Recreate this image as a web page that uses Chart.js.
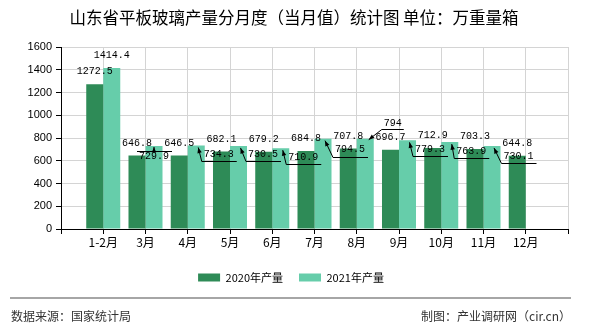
<!DOCTYPE html>
<html>
<head>
<meta charset="utf-8">
<script src="https://cdn.jsdelivr.net/npm/chart.js@4.4.0/dist/chart.umd.min.js"></script>
<style>
html, body { margin: 0; padding: 0; background: #fff; }
</style>
</head>
<body>
<canvas id="myChart" width="590" height="330"></canvas>
<script>
// data
const months = ['1-2月', '3月', '4月', '5月', '6月', '7月', '8月', '9月', '10月', '11月', '12月'];
const output2020 = [1272.5, 646.8, 646.5, 682.1, 679.2, 684.8, 707.8, 696.7, 712.9, 703.3, 644.8];
const output2021 = [1414.4, 729.9, 734.3, 730.5, 710.9, 794.5, 794, 779.3, 763.9, 730.1, null];
const yTicks = [0, 200, 400, 600, 800, 1000, 1200, 1400, 1600];

// where the 2021 labels sit (like the original, some are pushed aside with a leader line)
// [mode, dx, dy] relative to the bar top
const place2021 = [
    ['above', 0, -12.5],
    ['over', 0, 10],
    ['side', 22.5, 9],
    ['side', 24.5, 8.5],
    ['side', 22.5, 9],
    ['side', 27, 11],
    ['up', 27.5, -15],
    ['side', 22.5, 9],
    ['side', 21.5, 9],
    ['side', 26.5, 10],
    ['above', 0, -12.5]
];

// empty slot at each end, like the original axis
const xLabels = [''].concat(months, ['']);
const pad = arr => [null].concat(arr, [null]);

function arrow(c, x1, y1, x2, y2) {
    c.beginPath();
    c.moveTo(x1, y1);
    c.lineTo(x2, y2);
    c.stroke();
    const a = Math.atan2(y2 - y1, x2 - x1);
    c.beginPath();
    c.moveTo(x2, y2);
    c.lineTo(x2 - 6 * Math.cos(a - 0.38), y2 - 6 * Math.sin(a - 0.38));
    c.lineTo(x2 - 6 * Math.cos(a + 0.38), y2 - 6 * Math.sin(a + 0.38));
    c.closePath();
    c.fill();
}

const valueLabels = {
    id: 'valueLabels',
    afterDatasetsDraw(chart) {
        const c = chart.ctx;
        c.save();
        c.font = '10px "Liberation Mono"';
        c.fillStyle = '#000';
        c.strokeStyle = '#000';
        c.lineWidth = 1;
        c.textAlign = 'center';
        c.textBaseline = 'middle';
        chart.data.datasets.forEach((ds, di) => {
            chart.getDatasetMeta(di).data.forEach((bar, i) => {
                const v = ds.data[i];
                if (v == null) return;
                const txt = String(v);
                const p = di == 0 ? ['above', 0, -12.5] : place2021[i - 1];
                const tx = bar.x + p[1], ty = bar.y + p[2];
                const w = c.measureText(txt).width;
                c.fillText(txt, tx, ty);
                if (p[0] == 'side') {
                    const ly = Math.round(ty + 7) + 0.5;
                    c.beginPath();
                    c.moveTo(tx + w / 2 + 3, ly);
                    c.lineTo(tx - w / 2 - 2, ly);
                    c.stroke();
                    arrow(c, tx - w / 2 - 2, ly, bar.x + 2, bar.y + 2);
                } else if (p[0] == 'up') {
                    const ly = Math.round(ty + 5) + 0.5;
                    c.beginPath();
                    c.moveTo(tx + w / 2 + 2, ly);
                    c.lineTo(tx - w / 2 - 2, ly);
                    c.stroke();
                    arrow(c, tx - w / 2 - 2, ly, bar.x + 3.5, bar.y + 1);
                } else if (p[0] == 'over') {
                    const ly = Math.round(ty - 5) + 0.5;
                    c.beginPath();
                    c.moveTo(tx - w / 2 - 2, ly);
                    c.lineTo(tx + w / 2 + 3, ly);
                    c.stroke();
                    arrow(c, bar.x, ly, bar.x, bar.y + 1);
                }
            });
        });
        c.restore();
    }
};

const footer = {
    id: 'footer',
    afterLayout(chart) {
        // title and legend in the original sit a little right of the plot centre
        chart.legend.left += 7;
        chart.legend.right += 7;
        chart.titleBlock.left += 10;
        chart.titleBlock.right += 10;
    },
    afterDraw(chart) {
        const c = chart.ctx;
        c.save();
        c.strokeStyle = '#888';
        c.lineWidth = 1.5;
        c.beginPath();
        c.moveTo(10, 298);
        c.lineTo(571, 298);
        c.stroke();
        c.fillStyle = '#333';
        c.font = '12px "Noto Sans CJK SC"';
        c.textBaseline = 'middle';
        c.textAlign = 'left';
        c.fillText('数据来源：国家统计局', 11, 316);
        c.textAlign = 'right';
        c.fillText('制图：产业调研网（cir.cn）', 571, 316);
        c.restore();
    }
};

const ctx = document.getElementById('myChart').getContext('2d');

var chart = new Chart(ctx, {
    type: 'bar',
    data: {
        labels: xLabels,
        datasets: [{
            label: '2020年产量',
            data: pad(output2020),
            backgroundColor: '#2E8B57'
        }, {
            label: '2021年产量',
            data: pad(output2021),
            backgroundColor: '#66CDAA'
        }]
    },
    options: {
        responsive: false,
        devicePixelRatio: 1,
        animation: false,
        categoryPercentage: 0.805,
        barPercentage: 1,
        layout: { padding: { left: 0, right: 22, top: 0, bottom: 37 } },
        plugins: {
            title: {
                display: true,
                text: '山东省平板玻璃产量分月度（当月值）统计图 单位：万重量箱',
                color: '#000',
                font: { family: 'Noto Sans CJK SC', size: 16.5, weight: 'normal' },
                padding: { top: 8, bottom: 19.2 }
            },
            legend: {
                position: 'bottom',
                labels: {
                    boxWidth: 22,
                    boxHeight: 8,
                    padding: 16,
                    color: '#000',
                    font: { family: 'Noto Sans CJK SC', size: 11 }
                }
            },
            tooltip: { enabled: false }
        },
        scales: {
            x: {
                offset: false,
                grid: { offset: false, color: '#d4d4d4', tickColor: '#000', tickLength: 5 },
                border: { color: '#000' },
                ticks: {
                    color: '#000',
                    padding: 1,
                    maxRotation: 0,
                    autoSkip: false,
                    font: { family: 'Noto Sans CJK SC', size: 12 }
                },
                afterFit(s) { s.height = 27; }
            },
            y: {
                min: 0,
                max: 1600,
                grid: { color: '#d4d4d4', tickColor: '#000', tickLength: 5 },
                border: { color: '#000' },
                afterBuildTicks(s) { s.ticks = yTicks.map(v => ({ value: v })); },
                ticks: {
                    color: '#000',
                    padding: 4,
                    font: { family: 'Liberation Sans', size: 11 },
                    callback: v => String(v)
                },
                afterFit(s) { s.width = 61; }
            }
        }
    },
    plugins: [valueLabels, footer]
});
</script>
</body>
</html>
